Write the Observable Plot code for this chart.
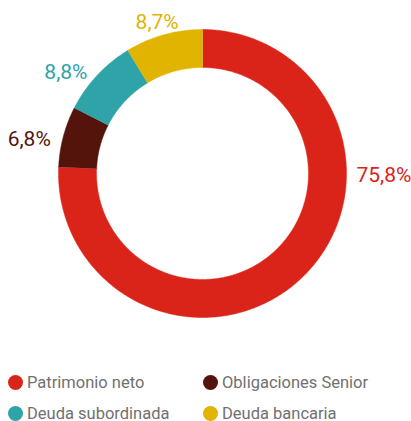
<!DOCTYPE html>
<html>
<head>
<meta charset="utf-8">
<script src="https://cdn.jsdelivr.net/npm/d3@7"></script>
<script src="https://cdn.jsdelivr.net/npm/@observablehq/plot@0.6"></script>
<style>
  html, body { margin: 0; padding: 0; background: #fff; }
  body { width: 411px; height: 421px; overflow: hidden; font-family: Roboto, "Noto Sans", sans-serif; }
  #chart svg { display: block; }
  .legend { display: grid; grid-template-columns: 195px 200px; grid-auto-rows: 31px; padding-top: 6.5px; padding-left: 7.5px; }
  .item { display: flex; align-items: center; font-size: 16.5px; color: #707070; }
  .dot { width: 15px; height: 15px; border-radius: 50%; margin-right: 4.5px; flex: none; }
</style>
</head>
<body>
<div id="chart"></div>
<div class="legend" id="legend"></div>
<script>
const categories = ["Patrimonio neto", "Obligaciones Senior", "Deuda subordinada", "Deuda bancaria"];
const values = [75.8, 6.8, 8.8, 8.7];
const labels = ["75,8%", "6,8%", "8,8%", "8,7%"];
const colors = ["#da2419", "#55140b", "#2ea4a8", "#e0b400"];

const W = 411, H = 360;
const cx = 202, cy = 173, R = 144;
const inner = 0.736;
const total = d3.sum(values);

// build ring segment polygons (unit outer radius), clockwise from 12 o'clock
const pts = [];
const lab = [];
let acc = 0;
values.forEach((v, i) => {
  const a0 = acc / total * 2 * Math.PI;
  acc += v;
  const a1 = acc / total * 2 * Math.PI;
  const n = Math.max(8, Math.ceil((a1 - a0) / (Math.PI / 360)));
  for (let k = 0; k <= n; k++) {
    const a = a0 + (a1 - a0) * k / n;
    pts.push({cat: categories[i], x: Math.sin(a), y: Math.cos(a)});
  }
  for (let k = n; k >= 0; k--) {
    const a = a0 + (a1 - a0) * k / n;
    pts.push({cat: categories[i], x: inner * Math.sin(a), y: inner * Math.cos(a)});
  }
  const share = v / total;
  const am = share > 0.5 ? Math.PI / 2 : (a0 + a1) / 2;
  const s = Math.sin(am);
  const anchor = s > 0.5 ? "start" : s < -0.5 ? "end" : "middle";
  lab.push({cat: categories[i], label: labels[i], x: 1.09 * Math.sin(am), y: 1.09 * Math.cos(am), anchor});
});

const chart = Plot.plot({
  width: W,
  height: H,
  margin: 0,
  x: {domain: [-cx / R, (W - cx) / R], axis: null},
  y: {domain: [-(H - cy) / R, cy / R], axis: null},
  color: {domain: categories, range: colors},
  marks: [
    Plot.line(pts, {x: "x", y: "y", z: "cat", fill: "cat", stroke: "cat", strokeWidth: 0.5, curve: "linear"}),
    Plot.text(lab.filter(d => d.anchor === "start"), {x: "x", y: "y", text: "label", fill: "cat", textAnchor: "start", dx: -3, dy: 2, fontSize: 21, fontFamily: "Roboto"}),
    Plot.text(lab.filter(d => d.anchor === "end"), {x: "x", y: "y", text: "label", fill: "cat", textAnchor: "end", dy: 6, fontSize: 21, fontFamily: "Roboto"}),
    Plot.text(lab.filter(d => d.anchor === "middle"), {x: "x", y: "y", text: "label", fill: "cat", textAnchor: "middle", dx: -3, dy: 0, fontSize: 21, fontFamily: "Roboto"})
  ]
});
document.getElementById("chart").appendChild(chart);

const legend = document.getElementById("legend");
categories.forEach((c, i) => {
  const item = document.createElement("div");
  item.className = "item";
  const dot = document.createElement("span");
  dot.className = "dot";
  dot.style.background = colors[i];
  const t = document.createElement("span");
  t.textContent = c;
  item.appendChild(dot);
  item.appendChild(t);
  legend.appendChild(item);
});
</script>
</body>
</html>
